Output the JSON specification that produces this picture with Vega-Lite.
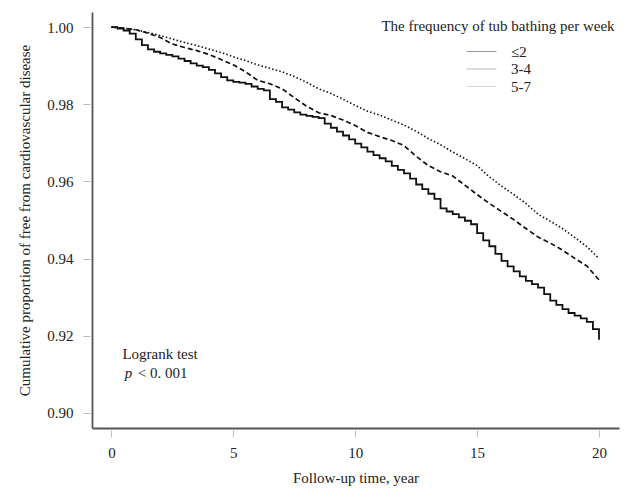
{
  "$schema": "https://vega.github.io/schema/vega-lite/v6.json",
  "width": 527,
  "height": 416,
  "autosize": {"type": "none"},
  "padding": {"left": 92, "top": 12, "right": 21, "bottom": 70},
  "background": "white",
  "datasets": {
    "curves": [
      {"group": "≤2", "t": 0, "s": 1.0},
      {"group": "≤2", "t": 0.25, "s": 0.9996},
      {"group": "≤2", "t": 0.5, "s": 0.9991},
      {"group": "≤2", "t": 0.75, "s": 0.9983},
      {"group": "≤2", "t": 1.0, "s": 0.9968},
      {"group": "≤2", "t": 1.25, "s": 0.9953},
      {"group": "≤2", "t": 1.5, "s": 0.9942},
      {"group": "≤2", "t": 1.75, "s": 0.9936},
      {"group": "≤2", "t": 2.0, "s": 0.9932},
      {"group": "≤2", "t": 2.25, "s": 0.9928},
      {"group": "≤2", "t": 2.5, "s": 0.9924},
      {"group": "≤2", "t": 2.75, "s": 0.9918},
      {"group": "≤2", "t": 3.0, "s": 0.9912},
      {"group": "≤2", "t": 3.25, "s": 0.9906},
      {"group": "≤2", "t": 3.5, "s": 0.99},
      {"group": "≤2", "t": 3.75, "s": 0.9896},
      {"group": "≤2", "t": 4.0, "s": 0.9889},
      {"group": "≤2", "t": 4.25, "s": 0.988},
      {"group": "≤2", "t": 4.5, "s": 0.987},
      {"group": "≤2", "t": 4.75, "s": 0.9862},
      {"group": "≤2", "t": 5.0, "s": 0.9858},
      {"group": "≤2", "t": 5.25, "s": 0.9856},
      {"group": "≤2", "t": 5.5, "s": 0.9853},
      {"group": "≤2", "t": 5.75, "s": 0.9846},
      {"group": "≤2", "t": 6.0, "s": 0.984},
      {"group": "≤2", "t": 6.25, "s": 0.9836},
      {"group": "≤2", "t": 6.5, "s": 0.9813},
      {"group": "≤2", "t": 6.75, "s": 0.9806},
      {"group": "≤2", "t": 7.0, "s": 0.9792},
      {"group": "≤2", "t": 7.25, "s": 0.9786},
      {"group": "≤2", "t": 7.5, "s": 0.9779},
      {"group": "≤2", "t": 7.75, "s": 0.9773},
      {"group": "≤2", "t": 8.0, "s": 0.977},
      {"group": "≤2", "t": 8.25, "s": 0.9767},
      {"group": "≤2", "t": 8.5, "s": 0.9764},
      {"group": "≤2", "t": 8.75, "s": 0.975},
      {"group": "≤2", "t": 9.0, "s": 0.9739},
      {"group": "≤2", "t": 9.25, "s": 0.9729},
      {"group": "≤2", "t": 9.5, "s": 0.9719},
      {"group": "≤2", "t": 9.75, "s": 0.9709},
      {"group": "≤2", "t": 10.0, "s": 0.9698},
      {"group": "≤2", "t": 10.25, "s": 0.9688},
      {"group": "≤2", "t": 10.5, "s": 0.9677},
      {"group": "≤2", "t": 10.75, "s": 0.9668},
      {"group": "≤2", "t": 11.0, "s": 0.966},
      {"group": "≤2", "t": 11.25, "s": 0.9652},
      {"group": "≤2", "t": 11.5, "s": 0.964},
      {"group": "≤2", "t": 11.75, "s": 0.963},
      {"group": "≤2", "t": 12.0, "s": 0.9621},
      {"group": "≤2", "t": 12.25, "s": 0.9607},
      {"group": "≤2", "t": 12.5, "s": 0.9592},
      {"group": "≤2", "t": 12.75, "s": 0.958},
      {"group": "≤2", "t": 13.0, "s": 0.9568},
      {"group": "≤2", "t": 13.25, "s": 0.9555},
      {"group": "≤2", "t": 13.5, "s": 0.953},
      {"group": "≤2", "t": 13.75, "s": 0.9522},
      {"group": "≤2", "t": 14.0, "s": 0.9515},
      {"group": "≤2", "t": 14.25, "s": 0.9507},
      {"group": "≤2", "t": 14.5, "s": 0.9498},
      {"group": "≤2", "t": 14.75, "s": 0.9489},
      {"group": "≤2", "t": 15.0, "s": 0.9466},
      {"group": "≤2", "t": 15.25, "s": 0.9447},
      {"group": "≤2", "t": 15.5, "s": 0.9432},
      {"group": "≤2", "t": 15.75, "s": 0.9412},
      {"group": "≤2", "t": 16.0, "s": 0.9394},
      {"group": "≤2", "t": 16.25, "s": 0.938},
      {"group": "≤2", "t": 16.5, "s": 0.9367},
      {"group": "≤2", "t": 16.75, "s": 0.9354},
      {"group": "≤2", "t": 17.0, "s": 0.9342},
      {"group": "≤2", "t": 17.25, "s": 0.9334},
      {"group": "≤2", "t": 17.5, "s": 0.9325},
      {"group": "≤2", "t": 17.75, "s": 0.9308},
      {"group": "≤2", "t": 18.0, "s": 0.9291},
      {"group": "≤2", "t": 18.25, "s": 0.928},
      {"group": "≤2", "t": 18.5, "s": 0.9269},
      {"group": "≤2", "t": 18.75, "s": 0.9259},
      {"group": "≤2", "t": 19.0, "s": 0.9252},
      {"group": "≤2", "t": 19.25, "s": 0.9245},
      {"group": "≤2", "t": 19.5, "s": 0.9236},
      {"group": "≤2", "t": 19.75, "s": 0.9217},
      {"group": "≤2", "t": 20.0, "s": 0.919},
      {"group": "3-4", "t": 0, "s": 1.0},
      {"group": "3-4", "t": 0.5, "s": 0.9997},
      {"group": "3-4", "t": 1.0, "s": 0.9993},
      {"group": "3-4", "t": 1.5, "s": 0.9984},
      {"group": "3-4", "t": 2.0, "s": 0.9973},
      {"group": "3-4", "t": 2.5, "s": 0.9956},
      {"group": "3-4", "t": 3.0, "s": 0.9947},
      {"group": "3-4", "t": 3.5, "s": 0.9939},
      {"group": "3-4", "t": 4.0, "s": 0.9929},
      {"group": "3-4", "t": 4.5, "s": 0.9916},
      {"group": "3-4", "t": 5.0, "s": 0.9902},
      {"group": "3-4", "t": 5.5, "s": 0.9884},
      {"group": "3-4", "t": 6.0, "s": 0.9862},
      {"group": "3-4", "t": 6.5, "s": 0.9853},
      {"group": "3-4", "t": 7.0, "s": 0.984},
      {"group": "3-4", "t": 7.5, "s": 0.9817},
      {"group": "3-4", "t": 8.0, "s": 0.9795},
      {"group": "3-4", "t": 8.5, "s": 0.9778},
      {"group": "3-4", "t": 9.0, "s": 0.9771},
      {"group": "3-4", "t": 9.5, "s": 0.9759},
      {"group": "3-4", "t": 10.0, "s": 0.9745},
      {"group": "3-4", "t": 10.5, "s": 0.9727},
      {"group": "3-4", "t": 11.0, "s": 0.9716},
      {"group": "3-4", "t": 11.5, "s": 0.9706},
      {"group": "3-4", "t": 12.0, "s": 0.9693},
      {"group": "3-4", "t": 12.5, "s": 0.9665},
      {"group": "3-4", "t": 13.0, "s": 0.9641},
      {"group": "3-4", "t": 13.5, "s": 0.9625},
      {"group": "3-4", "t": 14.0, "s": 0.9614},
      {"group": "3-4", "t": 14.5, "s": 0.959},
      {"group": "3-4", "t": 15.0, "s": 0.9566},
      {"group": "3-4", "t": 15.5, "s": 0.9543},
      {"group": "3-4", "t": 16.0, "s": 0.9522},
      {"group": "3-4", "t": 16.5, "s": 0.9501},
      {"group": "3-4", "t": 17.0, "s": 0.9478},
      {"group": "3-4", "t": 17.5, "s": 0.9456},
      {"group": "3-4", "t": 18.0, "s": 0.944},
      {"group": "3-4", "t": 18.5, "s": 0.9422},
      {"group": "3-4", "t": 19.0, "s": 0.9401},
      {"group": "3-4", "t": 19.5, "s": 0.9381},
      {"group": "3-4", "t": 20.0, "s": 0.9345},
      {"group": "5-7", "t": 0, "s": 1.0},
      {"group": "5-7", "t": 0.5, "s": 0.9997},
      {"group": "5-7", "t": 1.0, "s": 0.9993},
      {"group": "5-7", "t": 1.5, "s": 0.9986},
      {"group": "5-7", "t": 2.0, "s": 0.9978},
      {"group": "5-7", "t": 2.5, "s": 0.9969},
      {"group": "5-7", "t": 3.0, "s": 0.996},
      {"group": "5-7", "t": 3.5, "s": 0.9952},
      {"group": "5-7", "t": 4.0, "s": 0.9943},
      {"group": "5-7", "t": 4.5, "s": 0.9934},
      {"group": "5-7", "t": 5.0, "s": 0.9923},
      {"group": "5-7", "t": 5.5, "s": 0.9913},
      {"group": "5-7", "t": 6.0, "s": 0.9902},
      {"group": "5-7", "t": 6.5, "s": 0.9893},
      {"group": "5-7", "t": 7.0, "s": 0.9884},
      {"group": "5-7", "t": 7.5, "s": 0.9872},
      {"group": "5-7", "t": 8.0, "s": 0.9857},
      {"group": "5-7", "t": 8.5, "s": 0.984},
      {"group": "5-7", "t": 9.0, "s": 0.9828},
      {"group": "5-7", "t": 9.5, "s": 0.9813},
      {"group": "5-7", "t": 10.0, "s": 0.9797},
      {"group": "5-7", "t": 10.5, "s": 0.9782},
      {"group": "5-7", "t": 11.0, "s": 0.9772},
      {"group": "5-7", "t": 11.5, "s": 0.9759},
      {"group": "5-7", "t": 12.0, "s": 0.9746},
      {"group": "5-7", "t": 12.5, "s": 0.973},
      {"group": "5-7", "t": 13.0, "s": 0.9711},
      {"group": "5-7", "t": 13.5, "s": 0.9695},
      {"group": "5-7", "t": 14.0, "s": 0.9676},
      {"group": "5-7", "t": 14.5, "s": 0.9659},
      {"group": "5-7", "t": 15.0, "s": 0.9641},
      {"group": "5-7", "t": 15.5, "s": 0.9612},
      {"group": "5-7", "t": 16.0, "s": 0.9588},
      {"group": "5-7", "t": 16.5, "s": 0.9566},
      {"group": "5-7", "t": 17.0, "s": 0.9543},
      {"group": "5-7", "t": 17.5, "s": 0.9515},
      {"group": "5-7", "t": 18.0, "s": 0.9497},
      {"group": "5-7", "t": 18.5, "s": 0.9478},
      {"group": "5-7", "t": 19.0, "s": 0.9455},
      {"group": "5-7", "t": 19.5, "s": 0.9431},
      {"group": "5-7", "t": 20.0, "s": 0.94}
    ]
  },
  "layer": [
    {
      "data": {"name": "curves"},
      "mark": {"type": "line", "strokeWidth": 1, "opacity": 0},
      "encoding": {
        "x": {"field": "t", "type": "quantitative", "axis": null},
        "y": {"field": "s", "type": "quantitative", "axis": null},
        "color": {
          "field": "group", "type": "nominal",
          "scale": {"domain": ["≤2", "3-4", "5-7"], "range": ["#999999", "#bbbbbb", "#d6d6d6"]},
          "legend": {
            "title": "The frequency of tub bathing per week",
            "orient": "none", "legendX": 289, "legendY": 7,
            "titleAnchor": "middle", "titlePadding": 10, "titleLimit": 400,
            "symbolType": "stroke", "symbolSize": 900, "symbolStrokeWidth": 1,
            "symbolOpacity": 1, "labelOffset": 14,
            "clipHeight": 15, "rowPadding": 1.5
          }
        }
      }
    },
    {
      "data": {"name": "curves"},
      "transform": [{"filter": "datum.group == '≤2'"}],
      "mark": {"type": "line", "interpolate": "step-after", "color": "#111", "strokeWidth": 1.8},
      "encoding": {
        "x": {
          "field": "t", "type": "quantitative",
          "scale": {"domain": [-0.796, 20.82], "nice": false, "zero": false},
          "axis": {
            "orient": "bottom", "values": [0, 5, 10, 15, 20], "domain": false,
            "offset": 2, "tickSize": 7, "tickColor": "#bbb", "labelPadding": 8,
            "title": "Follow-up time, year", "titlePadding": 10, "grid": false
          }
        },
        "y": {
          "field": "s", "type": "quantitative",
          "scale": {"domain": [0.8961, 1.0039], "nice": false, "zero": false},
          "axis": {
            "orient": "left", "values": [0.9, 0.92, 0.94, 0.96, 0.98, 1.0], "format": ".2f",
            "domain": false, "offset": 2, "tickSize": 7, "tickColor": "#bbb", "labelPadding": 10,
            "title": "Cumulative proportion of free from cardiovascular disease", "titlePadding": 14, "grid": false
          }
        }
      }
    },
    {
      "data": {"name": "curves"},
      "transform": [{"filter": "datum.group == '3-4'"}],
      "mark": {"type": "line", "color": "#111", "strokeWidth": 1.7, "strokeDash": [5, 3]},
      "encoding": {
        "x": {
          "field": "t", "type": "quantitative",
          "axis": {"orient": "bottom", "domain": true, "ticks": false, "labels": false, "title": null, "grid": false, "offset": 0}
        },
        "y": {
          "field": "s", "type": "quantitative",
          "axis": {"orient": "left", "domain": true, "ticks": false, "labels": false, "title": null, "grid": false, "offset": 0}
        }
      }
    },
    {
      "data": {"name": "curves"},
      "transform": [{"filter": "datum.group == '5-7'"}],
      "mark": {"type": "line", "color": "#111", "strokeWidth": 1.6, "strokeDash": [1.5, 2.2]},
      "encoding": {
        "x": {"field": "t", "type": "quantitative", "axis": null},
        "y": {"field": "s", "type": "quantitative", "axis": null}
      }
    },
    {
      "data": {"values": [{}]},
      "mark": {"type": "text", "text": "Logrank test", "align": "left", "baseline": "middle", "fontSize": 15, "color": "#222"},
      "encoding": {
        "x": {"datum": 0.45, "type": "quantitative", "axis": null},
        "y": {"datum": 0.9153, "type": "quantitative", "axis": null}
      }
    },
    {
      "data": {"values": [{}]},
      "mark": {"type": "text", "text": "p", "align": "left", "baseline": "middle", "fontSize": 15, "fontStyle": "italic", "color": "#222"},
      "encoding": {
        "x": {"datum": 0.545, "type": "quantitative", "axis": null},
        "y": {"datum": 0.9103, "type": "quantitative", "axis": null}
      }
    },
    {
      "data": {"values": [{}]},
      "mark": {"type": "text", "text": "< 0. 001", "align": "left", "baseline": "middle", "fontSize": 15, "color": "#222"},
      "encoding": {
        "x": {"datum": 1.08, "type": "quantitative", "axis": null},
        "y": {"datum": 0.9103, "type": "quantitative", "axis": null}
      }
    }
  ],
  "resolve": {"axis": {"x": "independent", "y": "independent"}},
  "config": {
    "font": "Liberation Serif",
    "view": {"stroke": null},
    "axis": {
      "labelFontSize": 15, "titleFontSize": 15, "labelColor": "#222", "titleColor": "#222",
      "titleFontWeight": "normal", "domainColor": "#555", "domainWidth": 1.8, "tickWidth": 1
    },
    "legend": {
      "titleFontSize": 15, "labelFontSize": 15, "titleColor": "#222", "labelColor": "#222",
      "titleFontWeight": "normal", "padding": 0
    }
  }
}
